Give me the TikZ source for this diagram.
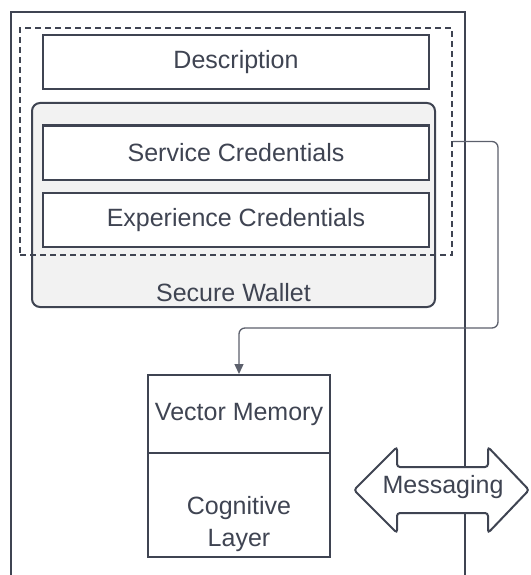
\documentclass[tikz,border=0pt]{standalone}
\usepackage{fontspec}
\setmainfont{Liberation Sans}
\usetikzlibrary{arrows.meta}
\definecolor{ink}{HTML}{3F4452}
\definecolor{walletgray}{HTML}{F2F2F2}

\begin{document}
\begin{tikzpicture}[
    x=1pt, y=-1pt,
    every node/.style={text=ink, font=\fontsize{25}{31}\selectfont},
    box/.style={rectangle, draw=ink, line width=2pt, fill=white, minimum width=386pt, minimum height=54pt},
    wallet/.style={rectangle, draw=ink, line width=2pt, fill=walletgray, rounded corners=8pt, minimum width=403pt, minimum height=204pt},
    frame/.style={rectangle, draw=ink, line width=2pt, dash pattern=on 6pt off 4pt, minimum width=432pt, minimum height=227pt},
    layer/.style={rectangle, draw=ink, line width=2pt, fill=white, minimum width=182pt},
    link/.style={draw=ink!85, line width=1.3pt, rounded corners=6pt, -{Triangle[length=10pt,width=9pt]}},
]
\useasboundingbox (0,0) rectangle (530,575);

% outer agent box (open at the bottom)
\draw[ink, line width=2pt] (11,575) |- (465,12) -- (465,575);

% wallet and its credentials
\node[wallet] (wallet) at (233.5,205) {};
\node (walletlabel) at (233.5,293) {Secure Wallet};
\node[box] (desc) at (236,62) {Description};
\node[box] (service) at (236,152.5) {Service Credentials};
\node[box] (experience) at (236,220) {Experience Credentials};

% dashed selection round description + credentials
\node[frame] (frame) at (236,141.5) {};

% memory stack
\node[layer, minimum height=78pt] (mem) at (239,414) {Vector Memory};
\node[layer, minimum height=104pt] (cog) at (239,505) {};
\node[align=center, font=\fontsize{25}{32}\selectfont] (coglabel) at (239,524) {Cognitive\\Layer};

% credentials feed the memory
\draw[link] (frame.east) -| (498,328) -| (mem.north);

% messaging arrow across the boundary
\draw[ink, line width=2pt, fill=white, rounded corners=3pt]
    (354,490) -- (397,447) -- (397,467) -- (488,467) -- (488,447) -- (529,490)
    -- (488,533) -- (488,513) -- (397,513) -- (397,533) -- cycle;
\node (msg) at (443,487) {Messaging};
\end{tikzpicture}
\end{document}
